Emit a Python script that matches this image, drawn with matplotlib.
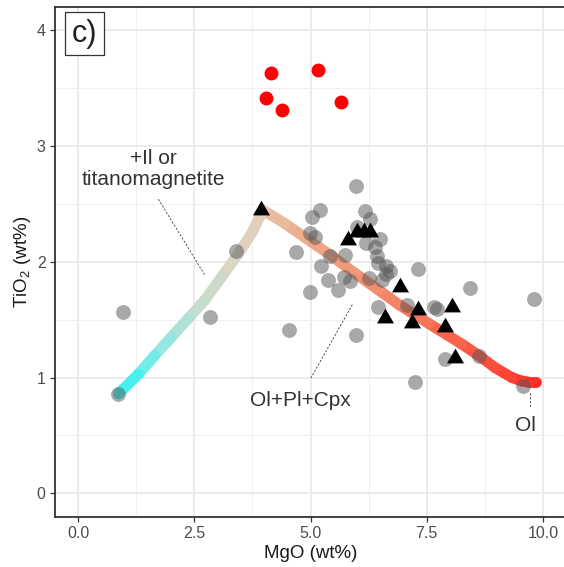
import numpy as np
import matplotlib
matplotlib.use("Agg")
import matplotlib.pyplot as plt
from matplotlib.collections import LineCollection
from matplotlib.colors import LinearSegmentedColormap

plt.rcParams['font.family'] = ['Liberation Sans', 'DejaVu Sans']
plt.rcParams['mathtext.fontset'] = 'custom'
plt.rcParams['mathtext.rm'] = 'Liberation Sans'
plt.rcParams['mathtext.it'] = 'Liberation Sans:italic'

# ---------------- data ----------------
# gray sample points
gray_mgo = [0.96, 2.83, 3.40, 4.54, 4.68, 4.99, 4.99, 5.10, 5.03, 5.20, 5.22, 5.42,
            5.74, 5.98, 6.17, 6.28, 6.20, 6.49, 6.39, 6.42, 6.46, 6.63, 6.71, 6.26,
            6.53, 5.38, 5.71, 5.85, 5.60, 7.32, 5.98, 6.46, 7.07, 7.66, 7.71, 8.44,
            9.81, 7.89, 8.63, 7.25, 9.58, 0.85, 6.00, 6.63]
gray_tio2 = [1.57, 1.52, 2.09, 1.41, 2.08, 1.74, 2.25, 2.21, 2.39, 2.45, 1.96, 2.05,
             2.06, 2.65, 2.44, 2.37, 2.16, 2.20, 2.13, 2.05, 1.99, 1.96, 1.92, 1.86,
             1.84, 1.84, 1.87, 1.83, 1.76, 1.94, 1.37, 1.61, 1.63, 1.61, 1.59, 1.77,
             1.68, 1.16, 1.19, 0.96, 0.93, 0.86, 2.30, 1.89]

# red points
red_mgo = [4.15, 4.04, 4.39, 5.16, 5.66]
red_tio2 = [3.63, 3.41, 3.31, 3.66, 3.38]

# black triangles
tri_mgo = [3.93, 5.81, 5.99, 6.14, 6.28, 6.92, 7.32, 8.04, 6.60, 7.18, 7.89, 8.11]
tri_tio2 = [2.45, 2.19, 2.26, 2.26, 2.26, 1.785, 1.58, 1.61, 1.51, 1.47, 1.44, 1.17]

# model liquid line of descent (from primitive to evolved)
model_mgo = [9.86, 9.70, 9.54, 9.33, 8.97, 8.62, 8.25, 7.53, 6.90, 6.45, 5.96, 5.42,
             4.88, 4.45, 4.00, 3.91, 3.74, 3.45, 3.09, 2.73, 2.37, 2.01, 1.65, 1.30, 0.87]
model_tio2 = [0.96, 0.96, 0.97, 1.00, 1.085, 1.19, 1.29, 1.47, 1.63, 1.76, 1.90, 2.06,
              2.21, 2.33, 2.44, 2.39, 2.25, 2.07, 1.87, 1.67, 1.51, 1.35, 1.19, 1.03, 0.86]

# annotations
labels = ["+Il or\ntitanomagnetite", "Ol+Pl+Cpx", "Ol"]
label_x = [1.62, 4.78, 9.62]
label_y = [2.80, 0.80, 0.585]
leader_x = [(1.73, 2.72), (5.90, 5.00), (9.71, 9.71)]
leader_y = [(2.54, 1.89), (1.63, 0.99), (0.865, 0.74)]

x_ticks = [0.0, 2.5, 5.0, 7.5, 10.0]
x_ticklabels = ["0.0", "2.5", "5.0", "7.5", "10.0"]
y_ticks = [0, 1, 2, 3, 4]

# ---------------- figure ----------------
W, H = 564, 567
fig = plt.figure(figsize=(W / 100, H / 100), dpi=100)
left_px, right_px, top_px, bot_px = 54.75, 566.25, 7.0, 516.5
ax = fig.add_axes([left_px / W, 1 - bot_px / H, (right_px - left_px) / W,
                   (bot_px - top_px) / H])
ax.set_xlim(-0.5, 10.5)
ax.set_ylim(-0.2, 4.2)

ax.set_xticks(x_ticks)
ax.set_xticklabels(x_ticklabels)
ax.set_xticks([1.25, 3.75, 6.25, 8.75], minor=True)
ax.set_yticks(y_ticks)
ax.set_yticks([0.5, 1.5, 2.5, 3.5], minor=True)
ax.grid(which='major', color='#EBEBEB', lw=1.3, zorder=0)
ax.grid(which='minor', color='#F0F0F0', lw=0.7, zorder=0)
ax.set_axisbelow(True)
ax.tick_params(which='minor', length=0)
ax.tick_params(which='major', length=3.5, width=0.9, color='#333333',
               labelcolor='#4D4D4D', labelsize=11.5, pad=3)
for s in ax.spines.values():
    s.set_color('#333333')
    s.set_linewidth(1.3)

# model path coloured along its length
cmap = LinearSegmentedColormap.from_list("lld", [
    (0.00, "#FF2A25"), (0.08, "#FF4A3A"), (0.20, "#F8684E"), (0.33, "#F28A6C"),
    (0.45, "#EFA384"), (0.55, "#EBB898"), (0.585, "#E4CCB6"), (0.70, "#DAD6C4"),
    (0.80, "#C4DDCE"), (0.90, "#8EE9E2"), (1.00, "#2FF2F0")])
pts = np.column_stack([model_mgo, model_tio2])
disp = ax.transData.transform(pts)
seglen = np.hypot(np.diff(disp[:, 0]), np.diff(disp[:, 1]))
cum = np.concatenate([[0], np.cumsum(seglen)])
tmid = (cum[:-1] + cum[1:]) / 2 / cum[-1]
segs = np.stack([pts[:-1], pts[1:]], axis=1)
lc = LineCollection(segs, colors=cmap(tmid), linewidths=7.8, capstyle='round',
                    joinstyle='round', zorder=2)
ax.add_collection(lc)

ax.scatter(gray_mgo, gray_tio2, s=115, color='#555555', alpha=0.5, lw=0, zorder=3)
ax.scatter(red_mgo, red_tio2, s=100, color='#FF0000', lw=0, zorder=3)
tri = [(-1, -0.577), (1, -0.577), (0, 1.155)]
ax.scatter(tri_mgo, tri_tio2, s=200, marker=tri, color='black', lw=0, zorder=4)

for lx, ly in zip(leader_x, leader_y):
    ax.plot(lx, ly, color='#333333', lw=0.6, ls=(0, (2.5, 2)), zorder=5)
for t, x, y in zip(labels, label_x, label_y):
    ax.text(x, y, t, ha='center', va='center', fontsize=15, color='#333333',
            linespacing=1.1, zorder=6)

ax.text(0.14, 3.97, "c)", ha='center', va='center', fontsize=22, color='#222222',
        zorder=7, bbox=dict(boxstyle='square,pad=0.22', fc='white', ec='#333333', lw=0.9))

ax.set_xlabel("MgO (wt%)", fontsize=13.5, color='#1A1A1A', labelpad=3)
ax.set_ylabel(r"TiO$_\mathregular{2}$ (wt%)", fontsize=13.5, color='#1A1A1A', labelpad=3)

fig.savefig("out.png", dpi=100)
